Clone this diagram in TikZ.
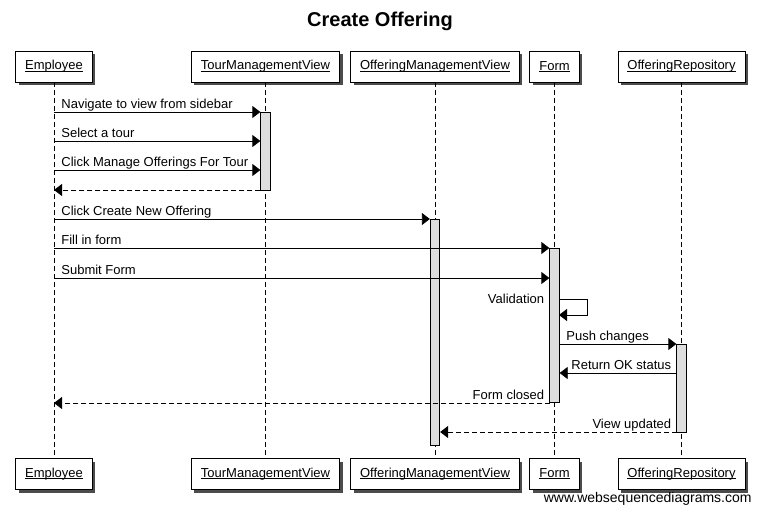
\documentclass[tikz,border=0pt]{standalone}
\usepackage{fontspec}
\setmainfont{Liberation Sans}
\usetikzlibrary{arrows.meta,shadows}
\newcommand{\pname}[1]{\setbox0\hbox{#1}\rlap{\rule[-1.6pt]{\wd0}{0.8pt}}\box0}
\tikzstyle{actor}=[rectangle,draw=black,fill=white,inner xsep=9.5pt,
  			  minimum height=31pt,
  			  drop shadow={shadow xshift=3pt,shadow yshift=-3pt,fill=black!70,opacity=1}]
\tikzstyle{actbar}=[rectangle,draw=black,fill=black!13,minimum width=9.5pt,inner sep=0pt]
\tikzstyle{lifeline}=[black,dash pattern=on 5pt off 3pt]
\tikzstyle{message}=[-{Triangle[length=8pt,width=12pt]},black]
\tikzstyle{reply}=[-{Triangle[length=8pt,width=12pt]},black,dash pattern=on 5pt off 3pt]
\tikzstyle{lbl}=[anchor=base west,inner sep=0pt,xshift=7pt,yshift=4pt]
\tikzstyle{rlbl}=[anchor=base east,inner sep=0pt,xshift=-5pt,yshift=4pt]

\begin{document}
\begin{tikzpicture}[x=1pt,y=-1pt,line width=.8pt,
                    font=\fontsize{13}{15}\selectfont]
	\useasboundingbox (0,0) rectangle (760,514);
	\node[font=\bfseries\fontsize{20}{24}\selectfont] (title) at (380,21) {Create Offering};

	% participants
	\node[actor] (emp)  at (54,66.5)    {\pname{Employee}};
	\node[actor] (tmv)  at (265.5,66.5) {\pname{TourManagementView}};
	\node[actor] (omv)  at (435,66.5)   {\pname{OfferingManagementView}};
	\node[actor] (form) at (554.5,66.5) {\pname{Form}};
	\node[actor] (repo) at (681.5,66.5) {\pname{OfferingRepository}};
	\node[actor] (empB)  at (54,474)    {\pname{Employee}};
	\node[actor] (tmvB)  at (265.5,474) {\pname{TourManagementView}};
	\node[actor] (omvB)  at (435,474)   {\pname{OfferingManagementView}};
	\node[actor] (formB) at (554.5,474) {\pname{Form}};
	\node[actor] (repoB) at (681.5,474) {\pname{OfferingRepository}};

	\foreach \p in {emp,tmv,omv,form,repo}
		\draw[lifeline] (\p) -- (\p B);

	% activations
	\node[actbar,minimum height=78pt]  (a1) at (265.5,151)  {};
	\node[actbar,minimum height=226pt] (a2) at (435,332)    {};
	\node[actbar,minimum height=154pt] (a3) at (554.5,325)  {};
	\node[actbar,minimum height=88pt]  (a4) at (681.5,388)  {};

	% message rows
	\coordinate (m1) at (54,112);
	\coordinate (m2) at (54,141);
	\coordinate (m3) at (54,170);
	\coordinate (m4) at (54,190);
	\coordinate (m5) at (54,219);
	\coordinate (m6) at (54,248);
	\coordinate (m7) at (54,278);
	\coordinate (m8) at (559,299);
	\coordinate (m9) at (587,315);
	\coordinate (m10) at (559,344);
	\coordinate (m11) at (676.5,373);
	\coordinate (m12) at (549.5,403);
	\coordinate (m13) at (676.5,432);

  \path [message]
		(m1) edge node[lbl,pos=0] {Navigate to view from sidebar} (m1 -| a1.west);
  \path [message]
		(m2) edge node[lbl,pos=0] {Select a tour} (m2 -| a1.west);
  \path [message]
		(m3) edge node[lbl,pos=0] {Click Manage Offerings For Tour} (m3 -| a1.west);
  \path [reply]
		(m4 -| a1.west) edge (m4);
  \path [message]
		(m5) edge node[lbl,pos=0] {Click Create New Offering} (m5 -| a2.west);
  \path [message]
		(m6) edge node[lbl,pos=0] {Fill in form} (m6 -| a3.west);
  \path [message]
		(m7) edge node[lbl,pos=0] {Submit Form} (m7 -| a3.west);
  \draw [message]
		(m8) -- (m8 -| m9) -- (m9) -- (m9 -| m8);
  \node[rlbl,xshift=-9.5pt,yshift=-8.5pt] at (m8) {Validation};
  \path [message]
		(m10) edge node[lbl,pos=0] {Push changes} (m10 -| a4.west);
  \path [message]
		(m11) edge node[rlbl,pos=0] {Return OK status} (m11 -| a3.east);
  \path [reply]
		(m12) edge node[rlbl,pos=0] {Form closed} (m12 -| emp);
  \path [reply]
		(m13) edge node[rlbl,pos=0] {View updated} (m13 -| a2.east);

	\node[anchor=east,inner sep=0pt,font=\fontsize{14}{16}\selectfont] (wsd) at (752,499)
		{www.websequencediagrams.com};
\end{tikzpicture}
\end{document}
